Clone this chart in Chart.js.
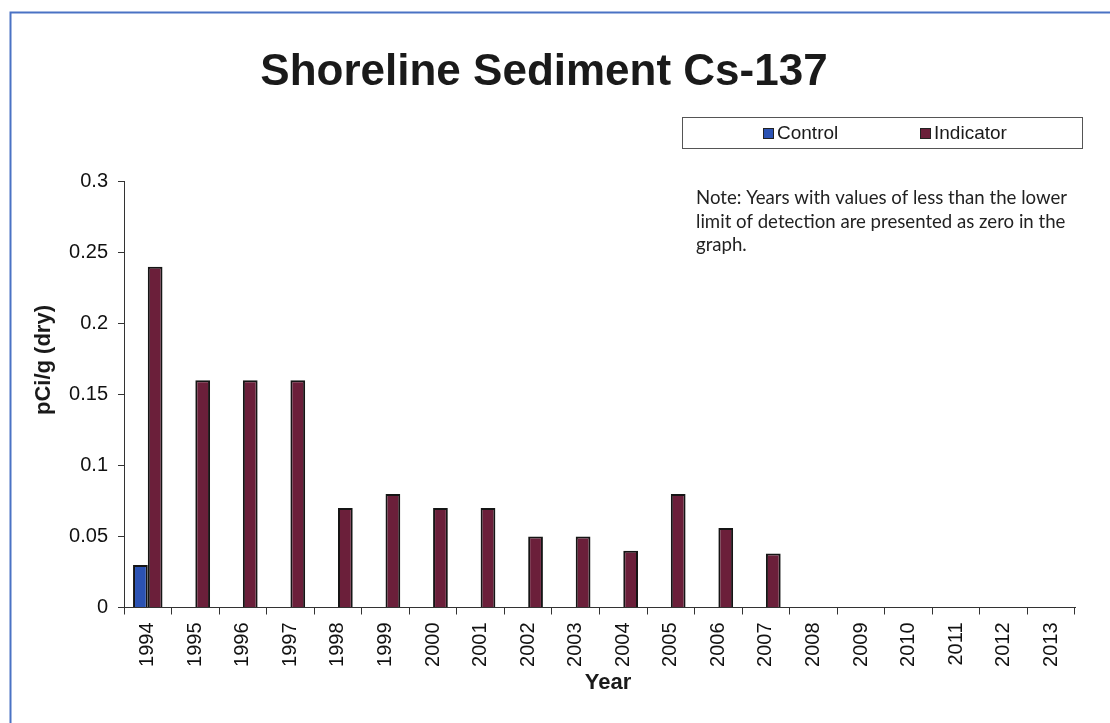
<!DOCTYPE html>
<html>
<head>
<meta charset="utf-8">
<script src="https://cdn.jsdelivr.net/npm/chart.js@4.4.1/dist/chart.umd.min.js"></script>
<style>
  html, body { margin: 0; padding: 0; background: #ffffff; }
  #wrap { position: relative; width: 1110px; height: 723px; }
</style>
</head>
<body>
<div id="wrap"><canvas id="c"></canvas></div>
<script>
// ---- data ----
const years = ['1994','1995','1996','1997','1998','1999','2000','2001','2002','2003',
               '2004','2005','2006','2007','2008','2009','2010','2011','2012','2013'];
const controlValues   = [0.03, 0, 0, 0, 0, 0, 0, 0, 0, 0, 0, 0, 0, 0, 0, 0, 0, 0, 0, 0];
const indicatorValues = [0.24, 0.16, 0.16, 0.16, 0.07, 0.08, 0.07, 0.07, 0.05, 0.05,
                         0.04, 0.08, 0.056, 0.038, 0, 0, 0, 0, 0, 0];
const yTickLabels = ['0', '0.05', '0.1', '0.15', '0.2', '0.25', '0.3'];
const seriesNames = ['Control', 'Indicator'];
const chartTitle = 'Shoreline Sediment Cs-137';
const yAxisTitle = 'pCi/g (dry)';
const xAxisTitle = 'Year';
const noteLines = ['Note: Years with values of less than the lower',
                   'limit of detection are presented as zero in the',
                   'graph.'];

const colors = ['#2b52b3', '#6b1f3a'];
const FONT = '"Liberation Sans", Arial, sans-serif';

const decor = {
  id: 'decor',
  beforeDraw(chart) {
    const ctx = chart.ctx;
    ctx.save();
    ctx.fillStyle = '#ffffff';
    ctx.fillRect(0, 0, chart.width, chart.height);
    // frame
    ctx.strokeStyle = '#4a72c4';
    ctx.lineWidth = 2;
    ctx.beginPath();
    ctx.moveTo(1110, 12.5);
    ctx.lineTo(10.5, 12.5);
    ctx.lineTo(10.5, 723);
    ctx.stroke();
    ctx.restore();
  },
  afterDraw(chart) {
    const ctx = chart.ctx;
    ctx.save();
    // title
    ctx.fillStyle = '#1a1a1a';
    ctx.font = 'bold 44px ' + FONT;
    ctx.textAlign = 'center';
    ctx.textBaseline = 'middle';
    ctx.fillText(chartTitle, 544, 73);

    // legend box
    ctx.strokeStyle = '#555';
    ctx.lineWidth = 1;
    ctx.strokeRect(682.5, 117.5, 400, 31);
    ctx.font = '19px ' + FONT;
    ctx.textAlign = 'left';
    ctx.textBaseline = 'middle';
    const legX = [763, 920];
    chart.data.datasets.forEach((ds, i) => {
      ctx.fillStyle = ds.backgroundColor;
      ctx.fillRect(legX[i], 128, 11, 11);
      ctx.strokeStyle = '#222';
      ctx.strokeRect(legX[i] + 0.5, 128.5, 10, 10);
      ctx.fillStyle = '#1a1a1a';
      ctx.fillText(ds.label, legX[i] + 14, 133.5);
    });

    // note
    let size = 17;
    ctx.font = size + 'px Lato, "Open Sans", sans-serif';
    const w = ctx.measureText(noteLines[0]).width;
    size = size * 371 / w;
    ctx.font = size.toFixed(2) + 'px Lato, "Open Sans", sans-serif';
    ctx.fillStyle = '#222';
    ctx.textBaseline = 'alphabetic';
    noteLines.forEach((t, i) => ctx.fillText(t, 696, 204 + i * 23.5));

    // axis titles
    ctx.font = 'bold 22px ' + FONT;
    ctx.fillStyle = '#1a1a1a';
    ctx.textAlign = 'center';
    ctx.textBaseline = 'middle';
    ctx.fillText(xAxisTitle, 608, 683);
    ctx.translate(44, 360);
    ctx.rotate(-Math.PI / 2);
    ctx.fillText(yAxisTitle, 0, 0);
    ctx.restore();
  }
};

new Chart(document.getElementById('c'), {
  type: 'bar',
  data: {
    labels: years,
    datasets: [
      { label: seriesNames[0], data: controlValues, backgroundColor: colors[0],
        borderColor: '#151515', borderWidth: 2, borderSkipped: 'start' },
      { label: seriesNames[1], data: indicatorValues, backgroundColor: colors[1],
        borderColor: '#151515', borderWidth: 2, borderSkipped: 'start' }
    ]
  },
  options: {
    responsive: true,
    maintainAspectRatio: false,
    animation: false,
    layout: { padding: { top: 181.5, right: 35, bottom: 0, left: 0 } },
    datasets: { bar: { categoryPercentage: 0.62, barPercentage: 1.0 } },
    plugins: { legend: { display: false }, title: { display: false }, tooltip: { enabled: false } },
    scales: {
      x: {
        offset: true,
        afterFit: (s) => { s.height = 115.5; },
        grid: { display: true, drawOnChartArea: false, drawTicks: true, tickLength: 7,
                color: '#333', offset: true },
        border: { display: true, color: '#333', width: 1 },
        ticks: { minRotation: 90, maxRotation: 90, autoSkip: false, padding: 8,
                 color: '#111', font: { family: FONT, size: 20 } }
      },
      y: {
        min: 0, max: 0.3,
        afterFit: (s) => { s.width = 124; },
        grid: { display: true, drawOnChartArea: false, drawTicks: true, tickLength: 6, color: '#333' },
        border: { display: true, color: '#333', width: 1 },
        ticks: { stepSize: 0.05, padding: 10, color: '#111', font: { family: FONT, size: 20 },
                 callback: (v, i) => yTickLabels[i] }
      }
    }
  },
  plugins: [decor]
});
</script>
</body>
</html>
